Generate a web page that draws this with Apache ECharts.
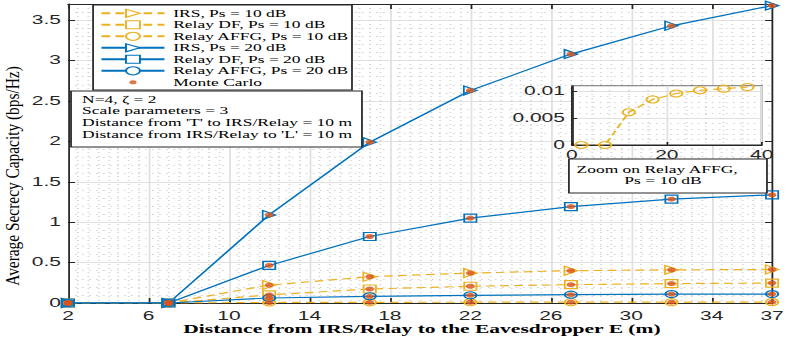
<!DOCTYPE html>
<html><head><meta charset="utf-8">
<script src="https://cdn.jsdelivr.net/npm/echarts@6/dist/echarts.min.js"></script>
<style>
html,body{margin:0;padding:0;background:#fff;overflow:hidden}
#c{width:451px;height:338px;transform:scaleX(1.74945);transform-origin:0 0;}
</style>
</head><body><div id="c"></div>
<script>
// ---- data ----
const distances = [2, 7, 12, 17, 22, 27, 32, 37];
const irs10   = [0, 0, 0.222, 0.325, 0.37, 0.40, 0.41, 0.415];
const df10    = [0, 0, 0.10, 0.173, 0.207, 0.227, 0.24, 0.247];
const affg10  = [0, 0, 0.0061, 0.0085, 0.0096, 0.0102, 0.0105, 0.0108];
const irs20   = [0, 0, 1.09, 1.99, 2.63, 3.08, 3.43, 3.68];
const df20    = [0, 0, 0.465, 0.823, 1.05, 1.193, 1.285, 1.338];
const affg20  = [0, 0, 0.062, 0.083, 0.095, 0.103, 0.11, 0.11];
const seriesNames = ['IRS, Ps = 10 dB', 'Relay DF, Ps = 10 dB', 'Relay AFFG, Ps = 10 dB',
                     'IRS, Ps = 20 dB', 'Relay DF, Ps = 20 dB', 'Relay AFFG, Ps = 20 dB'];
const mcName = 'Monte Carlo';
const annotationLines = ['N=4, \u03B6 = 2', 'Scale parameters = 3',
  "Distance from 'T' to IRS/Relay = 10 m", "Distance from IRS/Relay to 'L' = 10 m"];
const insetLines = ['Zoom on Relay AFFG,', 'Ps = 10 dB'];
const xTitle = 'Distance from IRS/Relay to the Eavesdropper E (m)';
const yTitle = 'Average Secrecy Capacity (bps/Hz)';

// ---- styling ----
const BLUE = '#0072BD', ORANGE = '#EDB120', RED = '#D95319', AX = '#262626';
const seriesColors = [ORANGE, ORANGE, ORANGE, BLUE, BLUE, BLUE];
const axisText = {fontFamily: 'Liberation Sans', fontSize: 12, color: AX, lineHeight: 10};
const serif = 'Liberation Serif';
const MINOR = {color: '#d6d6d6', width: 1, type: [1, 3]};
const MAJOR = {color: '#e0e0e0', width: 1};

function lineSeries(name, vals, color, dashed, symbol, size, rotate, xi, yi) {
  return {
    name, type: 'line', xAxisIndex: xi || 0, yAxisIndex: yi || 0,
    data: distances.map((d, i) => [d, vals[i]]),
    symbol, symbolSize: size, symbolRotate: rotate || 0,
    lineStyle: {color, width: 1.2, type: dashed ? [5, 3] : 'solid'},
    itemStyle: {color: 'rgba(255,255,255,0)', borderColor: color, borderWidth: 1.1},
    z: xi ? 6 : 2, animation: false, silent: true
  };
}
const allVals = [irs10, df10, affg10, irs20, df20, affg20];
const mcData = [];
allVals.forEach(arr => distances.forEach((d, i) => mcData.push([d, arr[i]])));

const mcSvg = '<svg xmlns="http://www.w3.org/2000/svg" width="36" height="10" viewBox="0 0 36 10" preserveAspectRatio="none"><circle cx="18" cy="5" r="2" fill="' + RED + '"/></svg>';
const mcIcon = 'image://data:image/svg+xml;charset=utf-8,' + encodeURIComponent(mcSvg);

function mainX(pos, labels) {
  return {
    gridIndex: 0, type: 'value', min: 2, max: 37, interval: 4, position: pos,
    axisLine: {show: true, onZero: false, lineStyle: {color: AX, width: 1}},
    axisTick: {show: true, inside: true, length: 5, lineStyle: {color: AX}},
    axisLabel: Object.assign({show: labels, margin: 8}, axisText),
    splitLine: {show: labels, lineStyle: MAJOR},
    minorTick: {show: false, splitNumber: 8},
    minorSplitLine: {show: labels, lineStyle: MINOR}
  };
}
function mainY(pos, labels) {
  return {
    gridIndex: 0, type: 'value', min: 0, max: 3.7, interval: 0.5, position: pos,
    axisLine: {show: true, onZero: false, lineStyle: {color: AX, width: 1}},
    axisTick: {show: true, inside: true, length: 4, lineStyle: {color: AX}},
    axisLabel: Object.assign({show: labels, margin: 4, showMaxLabel: false}, axisText),
    splitLine: {show: labels, lineStyle: MAJOR},
    minorTick: {show: false, splitNumber: 5},
    minorSplitLine: {show: labels, lineStyle: MINOR}
  };
}

const legendData = seriesNames.map((n, i) => ({name: n,
  itemStyle: {color: '#fff', borderColor: seriesColors[i], borderWidth: 1.1}}));
legendData.push({name: mcName, icon: mcIcon});

const chart = echarts.init(document.getElementById('c'), null, {renderer: 'svg'});
chart.setOption({
  animation: false,
  backgroundColor: '#fff',
  grid: [
    {left: 38.87, right: 6.85, top: 4, bottom: 35},
    {left: 326.9, top: 86, width: 108.5, height: 59, show: true, backgroundColor: '#fff',
     borderColor: AX, borderWidth: 1, z: 4}
  ],
  xAxis: [
    mainX('bottom', true), mainX('top', false),
    {gridIndex: 1, type: 'value', min: 0, max: 40, interval: 20, z: 5,
     axisLine: {show: true, onZero: false, lineStyle: {color: AX}},
     axisTick: {show: true, inside: true, length: 3, lineStyle: {color: AX}},
     axisLabel: Object.assign({margin: 5}, axisText),
     splitLine: {show: true, lineStyle: MAJOR},
     minorTick: {show: false, splitNumber: 5},
     minorSplitLine: {show: true, lineStyle: MINOR}}
  ],
  yAxis: [
    mainY('left', true), mainY('right', false),
    {gridIndex: 1, type: 'value', min: 0, max: 0.011, interval: 0.005, z: 5,
     axisLine: {show: true, onZero: false, lineStyle: {color: AX}},
     axisTick: {show: true, inside: true, length: 3, lineStyle: {color: AX}},
     axisLabel: Object.assign({margin: 4, showMaxLabel: false}, axisText),
     splitLine: {show: true, lineStyle: MAJOR},
     minorTick: {show: false, splitNumber: 5},
     minorSplitLine: {show: true, lineStyle: MINOR}}
  ],
  legend: {
    orient: 'vertical', left: 57, top: 8.3, padding: 0, itemWidth: 36, itemHeight: 10, itemGap: 1.5,
    selectedMode: false, z: 12,
    textStyle: {fontFamily: serif, fontSize: 10, color: '#000', lineHeight: 10},
    data: legendData
  },
  series: [
    lineSeries(seriesNames[0], irs10, ORANGE, true, 'triangle', [9, 7.4], -90),
    lineSeries(seriesNames[1], df10, ORANGE, true, 'rect', [7, 8]),
    lineSeries(seriesNames[2], affg10, ORANGE, true, 'circle', 7),
    lineSeries(seriesNames[3], irs20, BLUE, false, 'triangle', [9, 7.4], -90),
    lineSeries(seriesNames[4], df20, BLUE, false, 'rect', [7, 8]),
    lineSeries(seriesNames[5], affg20, BLUE, false, 'circle', 7),
    {name: mcName, type: 'scatter', xAxisIndex: 0, yAxisIndex: 0, data: mcData,
     symbol: 'circle', symbolSize: 5, itemStyle: {color: RED}, z: 5, silent: true},
    lineSeries('inset-affg10', affg10, ORANGE, true, 'circle', 7, 0, 2, 2)
  ],
  graphic: [
    {type: 'rect', z: 10, shape: {x: 53.2, y: 5, width: 148, height: 85},
     style: {fill: '#fff', stroke: AX, lineWidth: 1}},
    {type: 'rect', z: 10, shape: {x: 40.6, y: 91, width: 166.3, height: 56},
     style: {fill: '#fff', stroke: AX, lineWidth: 1}},
    ...annotationLines.map((t, i) => ({type: 'text', z: 11, x: 46.9, y: 99.3 + i * 11.67,
      style: {text: t, fontFamily: serif, fontSize: 10, fill: '#000', align: 'left', verticalAlign: 'middle'}})),
    {type: 'rect', z: 10, shape: {x: 325.2, y: 159, width: 113.2, height: 34},
     style: {fill: '#fff', stroke: AX, lineWidth: 1}},
    {type: 'text', z: 11, x: 375.6, y: 169, style: {text: insetLines[0], fontFamily: serif, fontSize: 10,
      fill: '#000', align: 'center', verticalAlign: 'middle'}},
    {type: 'text', z: 11, x: 379, y: 180, style: {text: insetLines[1], fontFamily: serif, fontSize: 10,
      fill: '#000', align: 'center', verticalAlign: 'middle'}},
    {type: 'text', z: 11, x: 241.2, y: 328.8, style: {text: xTitle, fontFamily: serif, fontSize: 12.3,
      fontWeight: 'bold', fill: '#000', align: 'center', verticalAlign: 'middle'}},
    {type: 'text', z: 11, x: 6.8, y: 176, rotation: Math.PI / 2, scaleX: 1.4,
     style: {text: yTitle, fontFamily: serif, fontSize: 11, fill: '#000', align: 'center', verticalAlign: 'middle'}}
  ]
});
</script>
</body></html>
